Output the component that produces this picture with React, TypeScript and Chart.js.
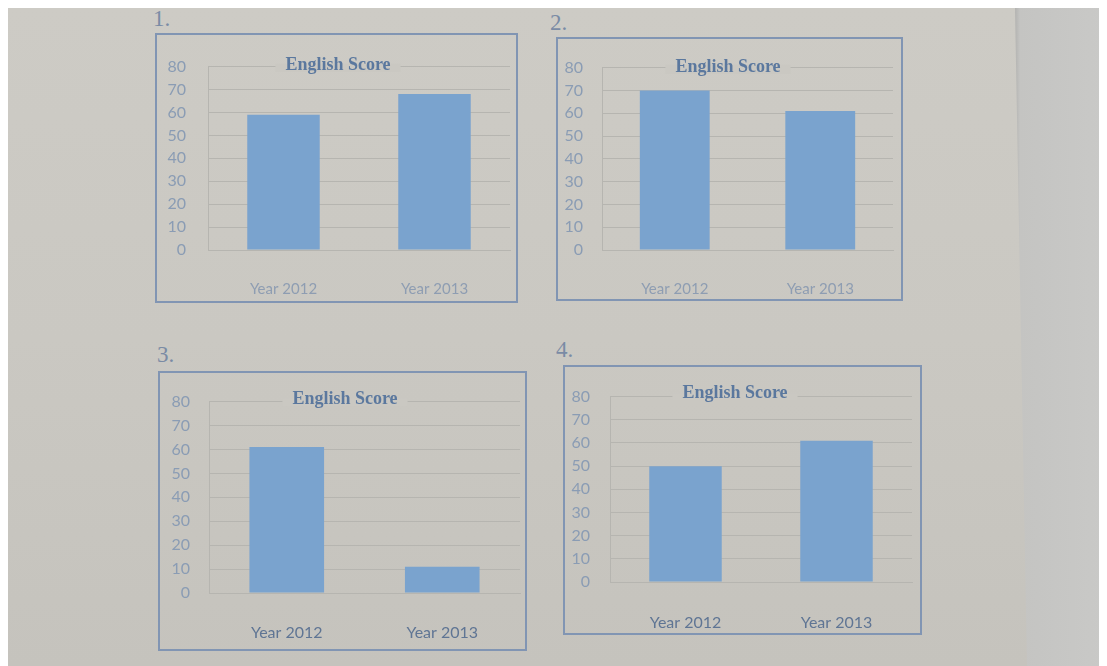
import React, { useEffect, useRef } from "react";
import { Chart, registerables } from "chart.js";
Chart.register(...registerables);

// ---- data ----
const categories = ["Year 2012", "Year 2013"];
const chart1Scores = [59, 68];
const chart2Scores = [70, 61];
const chart3Scores = [61, 11];
const chart4Scores = [50, 61];
const yMin = 0;
const yMax = 80;
const yStep = 10;
const chartTitle = "English Score";
const panelNumbers = ["1.", "2.", "3.", "4."];

// ---- style ----
const PAPER = "#cac8c2";
const BAR = "#7aa3ce";
const GRID = "#b6b5b0";
const BORDER = "#8195b3";
const TICK = "#8a9cb4";
const TITLE = "#5b789e";
const NUM = "#7a8ba5";

type Layout = {
  box: [number, number, number, number];
  plotL: number;
  plotR: number;
  y80: number;
  y0: number;
  xLabelY: number;
  tickRight: number;
  title: [number, number];
  num: [number, number];
  xLabelColor: string;
  xLabelSize: number;
};

const layouts: Layout[] = [
  { box: [155, 33, 518, 303], plotL: 208, plotR: 510, y80: 53, y0: 250, xLabelY: 282, tickRight: 186, title: [338, 65], num: [153, 7], xLabelColor: "#8e9db2", xLabelSize: 15 },
  { box: [556, 37, 903, 301], plotL: 602, plotR: 893, y80: 57, y0: 250, xLabelY: 282, tickRight: 583, title: [728, 67], num: [550, 11], xLabelColor: "#8e9db2", xLabelSize: 15 },
  { box: [158, 371, 527, 651], plotL: 209, plotR: 520, y80: 390, y0: 593, xLabelY: 625, tickRight: 190, title: [345, 399], num: [157, 343], xLabelColor: "#5f7594", xLabelSize: 16 },
  { box: [563, 365, 922, 635], plotL: 610, plotR: 912, y80: 385, y0: 582, xLabelY: 615, tickRight: 590, title: [735, 393], num: [556, 338], xLabelColor: "#5f7594", xLabelSize: 16 },
];

const seriesList = [chart1Scores, chart2Scores, chart3Scores, chart4Scores];
const BW = 2;

function Panel({ layout, values }: { layout: Layout; values: number[] }) {
  const ref = useRef<HTMLCanvasElement | null>(null);
  const [l, t, r, b] = layout.box;
  const cx0 = l + BW;
  const cy0 = t + BW;
  const W = r - l - 2 * BW;
  const H = b - t - 2 * BW;

  useEffect(() => {
    if (!ref.current) return;
    const padTop = layout.y80 - cy0;
    const yAxisW = layout.plotL - cx0;
    const padRight = cx0 + W - layout.plotR;
    const xAxisH = cy0 + H - layout.y0;
    const yTickPad = layout.plotL - layout.tickRight;
    const xTickPad = layout.xLabelY - layout.y0 - layout.xLabelSize / 2 - 2;
    const titleX = layout.title[0] - cx0;
    const titleY = layout.title[1] - cy0;

    const titlePlugin = {
      id: "paperTitle",
      beforeDatasetsDraw(chart: any) {
        const ctx = chart.ctx;
        ctx.save();
        ctx.font = "bold 18px 'Liberation Serif', serif";
        const w = ctx.measureText(chartTitle).width;
        ctx.fillStyle = PAPER;
        ctx.fillRect(titleX - w / 2 - 10, chart.chartArea.top - 3, w + 20, titleY - chart.chartArea.top + 10);
        ctx.fillStyle = TITLE;
        ctx.textAlign = "center";
        ctx.textBaseline = "middle";
        ctx.fillText(chartTitle, titleX, titleY);
        ctx.restore();
      },
    };

    const chart = new Chart(ref.current, {
      type: "bar",
      data: {
        labels: categories,
        datasets: [
          {
            data: values,
            backgroundColor: BAR,
            borderWidth: 0,
            barPercentage: 0.48,
            categoryPercentage: 1,
          },
        ],
      },
      options: {
        responsive: false,
        animation: false,
        events: [],
        layout: { padding: { top: padTop, right: padRight, left: 0, bottom: 0 } },
        plugins: { legend: { display: false }, tooltip: { enabled: false }, title: { display: false } },
        scales: {
          x: {
            grid: { display: false },
            border: { display: true, color: GRID, width: 1 },
            ticks: {
              color: layout.xLabelColor,
              font: { family: "Lato, 'Open Sans', sans-serif", size: layout.xLabelSize },
              padding: xTickPad,
              maxRotation: 0,
            },
            afterFit: (s: any) => {
              s.height = xAxisH;
            },
          },
          y: {
            min: yMin,
            max: yMax,
            grid: { color: GRID, drawTicks: false, lineWidth: 1 },
            border: { display: true, color: GRID, width: 1 },
            ticks: {
              stepSize: yStep,
              color: TICK,
              font: { family: "Lato, 'Open Sans', sans-serif", size: 16 },
              padding: yTickPad,
            },
            afterFit: (s: any) => {
              s.width = yAxisW;
            },
          },
        },
      },
      plugins: [titlePlugin],
    });
    return () => chart.destroy();
  }, []);

  return (
    <div
      style={{
        position: "absolute",
        left: l - 8,
        top: t - 8,
        width: r - l - 2 * BW,
        height: b - t - 2 * BW,
        border: `${BW}px solid ${BORDER}`,
      }}
    >
      <canvas ref={ref} width={W} height={H} style={{ display: "block", width: W, height: H }} />
    </div>
  );
}

export default function App() {
  return (
    <div
      style={{
        position: "relative",
        width: 1099,
        height: 658,
        overflow: "hidden",
        background: `linear-gradient(180deg, #cdcbc5 0%, ${PAPER} 50%, #c5c3bd 100%)`,
      }}
    >
      <div
        style={{
          position: "absolute",
          left: 1007,
          top: 0,
          width: 92,
          height: 658,
          background: "linear-gradient(90deg, #b3b3b1 0px, #c4c4c2 5px, #c9c9c7 100%)",
          clipPath: "polygon(0px 0px, 92px 0px, 92px 658px, 12px 658px)",
        }}
      />
      {layouts.map((lay, i) => (
        <React.Fragment key={i}>
          <div
            style={{
              position: "absolute",
              left: lay.num[0] - 8,
              top: lay.num[1] - 8,
              fontFamily: "'Liberation Serif', serif",
              fontSize: 23,
              lineHeight: "23px",
              color: NUM,
            }}
          >
            {panelNumbers[i]}
          </div>
          <Panel layout={lay} values={seriesList[i]} />
        </React.Fragment>
      ))}
    </div>
  );
}
